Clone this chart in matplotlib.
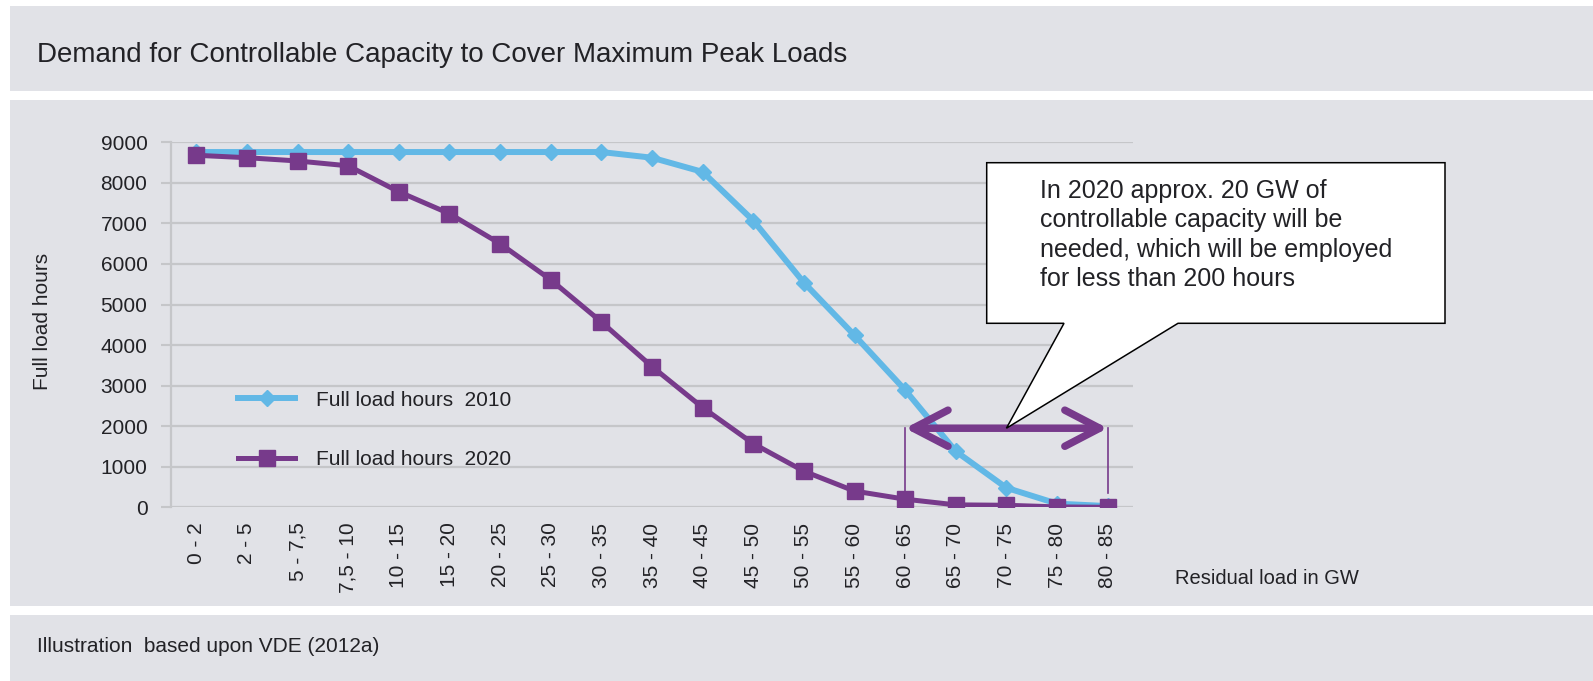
import matplotlib
matplotlib.use("Agg")
import matplotlib.pyplot as plt
from matplotlib.patches import Rectangle, Polygon

# ---- data ---------------------------------------------------------------
categories = ['0 - 2', '2 - 5', '5 - 7,5', '7,5 - 10', '10 - 15', '15 - 20',
              '20 - 25', '25 - 30', '30 - 35', '35 - 40', '40 - 45', '45 - 50',
              '50 - 55', '55 - 60', '60 - 65', '65 - 70', '70 - 75', '75 - 80',
              '80 - 85']
hours_2010 = [8760, 8760, 8760, 8760, 8760, 8760, 8760, 8760, 8760, 8620,
              8270, 7070, 5540, 4240, 2890, 1380, 480, 90, 30]
hours_2020 = [8680, 8620, 8540, 8420, 7780, 7240, 6500, 5610, 4570, 3470,
              2460, 1570, 890, 400, 200, 60, 50, 10, 0]
y_ticks = [0, 1000, 2000, 3000, 4000, 5000, 6000, 7000, 8000, 9000]

series_labels = ['Full load hours  2010', 'Full load hours  2020']
title = 'Demand for Controllable Capacity to Cover Maximum Peak Loads'
source_note = 'Illustration  based upon VDE (2012a)'
callout_text = ('In 2020 approx. 20 GW of\ncontrollable capacity will be\n'
                'needed, which will be employed\nfor less than 200 hours')

# highlighted range: from '60 - 65' to '80 - 85'
span_start, span_end = 14, 18
span_level = 1950
span_drop = 350

# ---- style --------------------------------------------------------------
FONT = ['Liberation Sans', 'DejaVu Sans']
plt.rcParams['font.family'] = FONT
TEXT = '#222226'
PANEL = '#e1e2e7'
GRID = '#c5c6c9'
BLUE = '#62b8e6'
PURPLE = '#773a8b'

W, H, DPI = 1593, 681, 100
fig = plt.figure(figsize=(W / DPI, H / DPI), dpi=DPI, facecolor='white')

def fx(px):
    return px / W

def fy(py):
    return 1 - py / H

# grey background panels
for top, bottom in [(6, 90.7), (100, 606), (615, 681)]:
    fig.patches.append(Rectangle((fx(10), fy(bottom)), 1 - fx(10),
                                 (bottom - top) / H, transform=fig.transFigure,
                                 facecolor=PANEL, edgecolor='none', zorder=-5))

fig.text(fx(36.7), fy(55), title, fontsize=20, color=TEXT,
         ha='left', va='center')
fig.text(fx(37), fy(647), source_note, fontsize=15, color=TEXT,
         ha='left', va='center')

# ---- main axes ----------------------------------------------------------
left, right, top, bottom = 171, 1133, 142.3, 507.3
ax = fig.add_axes([fx(left), fy(bottom), (right - left) / W, (bottom - top) / H])
ax.set_facecolor('none')

x = list(range(len(categories)))
ax.plot(x, hours_2010, color=BLUE, lw=4.3, marker='D', markersize=8.5,
        zorder=3, label=series_labels[0], solid_joinstyle='round')
ax.plot(x, hours_2020, color=PURPLE, lw=3.6, marker='s', markersize=12,
        zorder=4, label=series_labels[1], solid_joinstyle='round')

ax.set_xlim(-0.5, len(categories) - 0.5)
ax.set_ylim(0, 9000)
ax.set_yticks(y_ticks)
ax.set_xticks(x)
ax.set_xticklabels(categories, rotation=90, fontsize=15, color=TEXT)
ax.tick_params(axis='x', length=0, pad=11)
ax.tick_params(axis='y', length=7, width=1.5, color=GRID, pad=10,
               labelsize=15, labelcolor=TEXT)
ax.grid(axis='y', color=GRID, lw=1.6, zorder=0)
ax.grid(axis='x', visible=False)
ax.set_axisbelow(True)
for s in ['top', 'right', 'bottom']:
    ax.spines[s].set_visible(False)
ax.spines['left'].set_color(GRID)
ax.spines['left'].set_linewidth(1.6)

ax.set_ylabel('Full load hours', fontsize=15, color=TEXT)
ax.yaxis.set_label_coords((51.7 - left) / (right - left),
                          (bottom - 321.7) / (bottom - top))

fig.text(fx(1175), fy(579), 'Residual load in GW', fontsize=14.5,
         color=TEXT, ha='left', va='center')

leg = ax.legend(loc='center left',
                bbox_to_anchor=((238 - left) / (right - left),
                                (bottom - 430) / (bottom - top)),
                frameon=False, fontsize=15, handlelength=2.75,
                handletextpad=1.0, labelspacing=1.95, borderpad=0,
                borderaxespad=0, labelcolor=TEXT)

# ---- highlighted range -------------------------------------------------
for xi in (span_start, span_end):
    ax.plot([xi, xi], [span_level, span_drop], color=PURPLE, lw=1.2, zorder=5)
ax.annotate('', xy=(span_end, span_level), xytext=(span_start, span_level),
            arrowprops=dict(arrowstyle='<->,head_length=25,head_width=13',
                            mutation_scale=1, color=PURPLE, lw=5.4,
                            shrinkA=0, shrinkB=0, capstyle='round',
                            joinstyle='round'),
            zorder=6)

# ---- callout ------------------------------------------------------------
mid = (span_start + span_end) / 2
tip = (ax.transData + fig.transFigure.inverted()).transform((mid, span_level))
bx0, bx1, byt, byb = fx(986.7), fx(1445), fy(162.7), fy(323.3)
callout = Polygon([(bx0, byb), (fx(1064), byb), tuple(tip), (fx(1178), byb),
                   (bx1, byb), (bx1, byt), (bx0, byt)], closed=True,
                  transform=fig.transFigure, facecolor='white',
                  edgecolor='black', lw=1.1, zorder=10)
fig.patches.append(callout)
fig.text(fx(1040), fy(179), callout_text, fontsize=18, color=TEXT,
         ha='left', va='top', linespacing=1.28, zorder=11)

fig.savefig('out.png', dpi=DPI, facecolor='white')
